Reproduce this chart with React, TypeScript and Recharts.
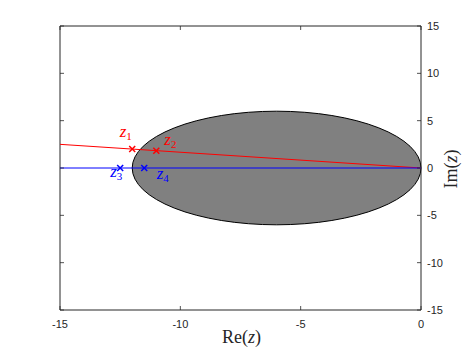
import React from 'react';
import { ScatterChart, Scatter, XAxis, YAxis, ReferenceArea, LabelList } from 'recharts';

const xTicks = [-15, -10, -5, 0];
const yTicks = [-15, -10, -5, 0, 5, 10, 15];
const xDomain = [-15, 0];
const yDomain = [-15, 15];
const diskRe = [-12, 0];
const diskIm = [-6, 6];
const redLine = [{ x: -15, y: 2.5 }, { x: 0, y: 0 }];
const redPoints = [{ x: -12, y: 2.0, name: '1' }, { x: -11, y: 1.83, name: '2' }];
const blueLine = [{ x: -15, y: 0 }, { x: 0, y: 0 }];
const bluePoints = [{ x: -12.5, y: 0, name: '3' }, { x: -11.5, y: 0, name: '4' }];

const AX = '#262626';
const RED = '#ff0000';
const BLUE = '#0000ff';
const TL = 4;
const labelOffsets: Record<string, [number, number]> = {
  '1': [-12.5, -12],
  '2': [8, -6],
  '3': [-10, 9],
  '4': [12.5, 11],
};

const Cross = (color: string) => (p: any) => {
  const { cx, cy } = p;
  const s = 3;
  return (
    <g stroke={color} strokeWidth={1.5}>
      <line x1={cx - s} y1={cy - s} x2={cx + s} y2={cy + s} />
      <line x1={cx - s} y1={cy + s} x2={cx + s} y2={cy - s} />
    </g>
  );
};

const ZLabel = (color: string) => (p: any) => {
  const { x, y, width, height, value } = p;
  const cx = x + (width || 0) / 2;
  const cy = y + (height || 0) / 2;
  const off = labelOffsets[String(value)] || [0, 0];
  return (
    <text x={cx + off[0]} y={cy + off[1]} style={{ fill: color, fontFamily: '"Liberation Serif", serif', fontSize: 17 }}>
      <tspan style={{ fontStyle: 'italic' }}>z</tspan>
      <tspan style={{ fontSize: 11 }} dy={3}>{value}</tspan>
    </text>
  );
};

const none = () => <g />;

const tickStyle = { fill: AX, fontFamily: '"Liberation Sans", Arial, sans-serif', fontSize: 11 };

const BottomTick = (p: any) => {
  const { x, y, payload } = p;
  const ay = y - 10;
  return (
    <g>
      <line x1={x} y1={ay} x2={x} y2={ay - TL} stroke={AX} strokeWidth={0.8} />
      <text x={x} y={ay + 18} textAnchor="middle" style={tickStyle}>
        {payload.value}
      </text>
    </g>
  );
};
const RightTick = (p: any) => {
  const { x, y, payload } = p;
  const ax = x - 6;
  return (
    <g>
      <line x1={ax} y1={y} x2={ax - TL} y2={y} stroke={AX} strokeWidth={0.8} />
      <text x={ax + 6} y={y + 4} textAnchor="start" style={tickStyle}>
        {payload.value}
      </text>
    </g>
  );
};
const TopTick = (p: any) => {
  const { x, y } = p;
  return <line x1={x} y1={y} x2={x} y2={y + TL} stroke={AX} strokeWidth={0.8} />;
};
const LeftTick = (p: any) => {
  const { x, y } = p;
  return <line x1={x} y1={y} x2={x + TL} y2={y} stroke={AX} strokeWidth={0.8} />;
};

const serif18 = { fill: AX, fontFamily: '"Liberation Serif", serif', fontSize: 18 };

export default function App() {
  return (
    <div style={{ position: 'absolute', left: 0, top: 0, background: '#fff' }}>
      <ScatterChart width={467} height={350} margin={{ top: 25, right: 16, bottom: 16, left: 59 }}>
        <XAxis
          xAxisId={0}
          type="number"
          dataKey="x"
          domain={xDomain}
          ticks={xTicks}
          interval={0}
          allowDataOverflow
          height={24}
          tickSize={0}
          tickMargin={10}
          axisLine={{ stroke: AX }}
          tickLine={false}
          tick={BottomTick}
          label={{
            content: (p: any) => {
              const vb = p.viewBox;
              return (
                <text x={vb.x + vb.width / 2 + 1} y={343} textAnchor="middle" style={serif18}>
                  Re(<tspan style={{ fontStyle: 'italic' }}>z</tspan>)
                </text>
              );
            },
          }}
        />
        <XAxis
          xAxisId="top"
          orientation="top"
          type="number"
          dataKey="x"
          domain={xDomain}
          ticks={xTicks}
          interval={0}
          allowDataOverflow
          height={1}
          tickSize={0}
          tickMargin={0}
          axisLine={{ stroke: AX }}
          tickLine={false}
          tick={TopTick}
        />
        <YAxis
          yAxisId={0}
          orientation="right"
          type="number"
          dataKey="y"
          domain={yDomain}
          ticks={yTicks}
          interval={0}
          allowDataOverflow
          width={30}
          tickSize={0}
          tickMargin={6}
          axisLine={{ stroke: AX }}
          tickLine={false}
          tick={RightTick}
          label={{
            content: (p: any) => {
              const vb = p.viewBox;
              const cy = vb.y + vb.height / 2 + 1;
              return (
                <text x={457} y={cy} textAnchor="middle" transform={`rotate(-90 457 ${cy})`} style={serif18}>
                  Im(<tspan style={{ fontStyle: 'italic' }}>z</tspan>)
                </text>
              );
            },
          }}
        />
        <YAxis
          yAxisId="left"
          orientation="left"
          type="number"
          dataKey="y"
          domain={yDomain}
          ticks={yTicks}
          interval={0}
          allowDataOverflow
          width={1}
          tickSize={0}
          tickMargin={0}
          axisLine={{ stroke: AX }}
          tickLine={false}
          tick={LeftTick}
        />
        <ReferenceArea
          x1={diskRe[0]}
          x2={diskRe[1]}
          y1={diskIm[0]}
          y2={diskIm[1]}
          ifOverflow="visible"
          shape={(p: any) => (
            <ellipse
              cx={p.x + p.width / 2}
              cy={p.y + p.height / 2}
              rx={Math.abs(p.width) / 2}
              ry={Math.abs(p.height) / 2}
              fill="#808080"
              stroke="#000"
              strokeWidth={1}
            />
          )}
        />
        <Scatter data={redLine} line={{ stroke: RED, strokeWidth: 1 }} shape={none} isAnimationActive={false} />
        <Scatter data={blueLine} line={{ stroke: BLUE, strokeWidth: 1 }} shape={none} isAnimationActive={false} />
        <Scatter data={redPoints} shape={Cross(RED)} isAnimationActive={false}>
          <LabelList dataKey="name" content={ZLabel(RED)} />
        </Scatter>
        <Scatter data={bluePoints} shape={Cross(BLUE)} isAnimationActive={false}>
          <LabelList dataKey="name" content={ZLabel(BLUE)} />
        </Scatter>
      </ScatterChart>
    </div>
  );
}
